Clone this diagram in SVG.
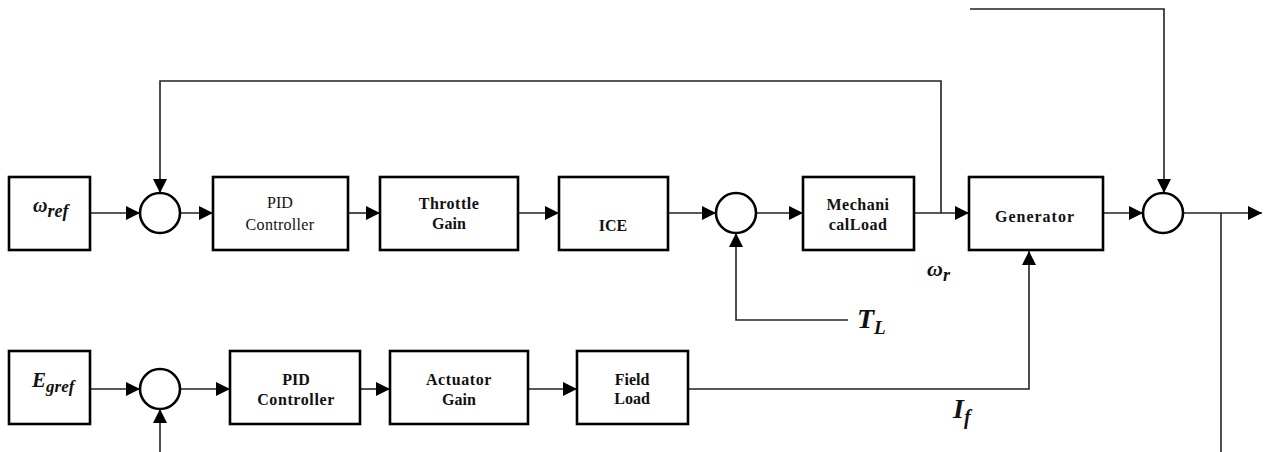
<svg xmlns="http://www.w3.org/2000/svg" width="1270" height="452" viewBox="0 0 1270 452">
<style>
.box{fill:#fff;stroke:#000;stroke-width:2.6}
.sum{fill:#fff;stroke:#000;stroke-width:2.6}
.ln{fill:none;stroke:#222;stroke-width:1.6}
.t{font-family:"Liberation Serif","DejaVu Serif",serif;font-size:16px;fill:#111;text-anchor:middle}
.b{font-weight:bold}
.m{font-family:"Liberation Serif","DejaVu Serif",serif;font-weight:bold;font-style:italic;fill:#111}
</style>
<defs>
<marker id="ah" markerUnits="userSpaceOnUse" markerWidth="14" markerHeight="14" refX="14" refY="7" orient="auto">
<path d="M0,0 L14,7 L0,14 z" fill="#000"/>
</marker>
</defs>
<g id="connectors">
<path class="ln" d="M90,213 H140" marker-end="url(#ah)"/>
<path class="ln" d="M180,213 H213" marker-end="url(#ah)"/>
<path class="ln" d="M348,213 H380" marker-end="url(#ah)"/>
<path class="ln" d="M518,213 H559" marker-end="url(#ah)"/>
<path class="ln" d="M668,213 H716" marker-end="url(#ah)"/>
<path class="ln" d="M756,213 H803" marker-end="url(#ah)"/>
<path class="ln" d="M914,213 H969" marker-end="url(#ah)"/>
<path class="ln" d="M1103,213 H1143" marker-end="url(#ah)"/>
<path class="ln" d="M1183,213 H1262" marker-end="url(#ah)"/>
<path class="ln" d="M941,213 V81 H160 V193" marker-end="url(#ah)"/>
<path class="ln" d="M970,9 H1164 V193" marker-end="url(#ah)"/>
<path class="ln" d="M848,320 H736 V233" marker-end="url(#ah)"/>
<path class="ln" d="M688,389 H1029 V251" marker-end="url(#ah)"/>
<path class="ln" d="M1221,213 V452"/>
<path class="ln" d="M90,389 H140" marker-end="url(#ah)"/>
<path class="ln" d="M180,389 H230" marker-end="url(#ah)"/>
<path class="ln" d="M360,389 H390" marker-end="url(#ah)"/>
<path class="ln" d="M528,389 H577" marker-end="url(#ah)"/>
<path class="ln" d="M160,452 V409" marker-end="url(#ah)"/>
</g>
<g id="wref"><rect class="box" x="9" y="177" width="81" height="73"/>
<text class="m" x="33" y="212" font-size="20">ω<tspan font-size="18" dy="5">ref</tspan></text></g>
<g id="sum1"><circle class="sum" cx="160" cy="213" r="20"/></g>
<g id="pid1"><rect class="box" x="213" y="177" width="135" height="73"/>
<text class="t" x="280" y="208" font-size="17">PID</text><text class="t" x="280" y="230" font-size="17" letter-spacing="0.3">Controller</text></g>
<g id="throttle"><rect class="box" x="380" y="177" width="138" height="73"/>
<text class="t b" x="449" y="209" letter-spacing="0.5">Throttle</text><text class="t b" x="449" y="229">Gain</text></g>
<g id="ice"><rect class="box" x="559" y="177" width="109" height="73"/>
<text class="t b" x="613" y="231">ICE</text></g>
<g id="sum2"><circle class="sum" cx="736" cy="213" r="20"/></g>
<g id="mech"><rect class="box" x="803" y="177" width="111" height="73"/>
<text class="t b" x="858" y="210" letter-spacing="0.5">Mechani</text><text class="t b" x="858" y="230" letter-spacing="0.5">calLoad</text></g>
<g id="generator"><rect class="box" x="969" y="177" width="134" height="73"/>
<text class="t b" x="1035" y="222" letter-spacing="1">Generator</text></g>
<g id="sum3"><circle class="sum" cx="1163" cy="213" r="20"/></g>
<g id="wr"><text class="m" x="927" y="276" font-size="22">ω<tspan font-size="18" dy="5">r</tspan></text></g>
<g id="tl"><text class="m" x="857" y="328" font-size="28">T<tspan font-size="19" dy="6">L</tspan></text></g>
<g id="egref"><rect class="box" x="9" y="351" width="81" height="73"/>
<text class="m" x="32" y="387" font-size="21">E<tspan font-size="17" dy="5">gref</tspan></text></g>
<g id="sum4"><circle class="sum" cx="160" cy="389" r="20"/></g>
<g id="pid2"><rect class="box" x="230" y="351" width="130" height="73"/>
<text class="t b" x="296" y="385">PID</text><text class="t b" x="296" y="405" letter-spacing="0.6">Controller</text></g>
<g id="actuator"><rect class="box" x="390" y="351" width="138" height="73"/>
<text class="t b" x="459" y="385" letter-spacing="0.6">Actuator</text><text class="t b" x="459" y="405">Gain</text></g>
<g id="field"><rect class="box" x="577" y="351" width="111" height="73"/>
<text class="t b" x="632" y="385" font-size="14">Field</text><text class="t b" x="632" y="404" font-size="14">Load</text></g>
<g id="if"><text class="m" x="953" y="418" font-size="28">I<tspan font-size="20" dy="6">f</tspan></text></g>
</svg>
